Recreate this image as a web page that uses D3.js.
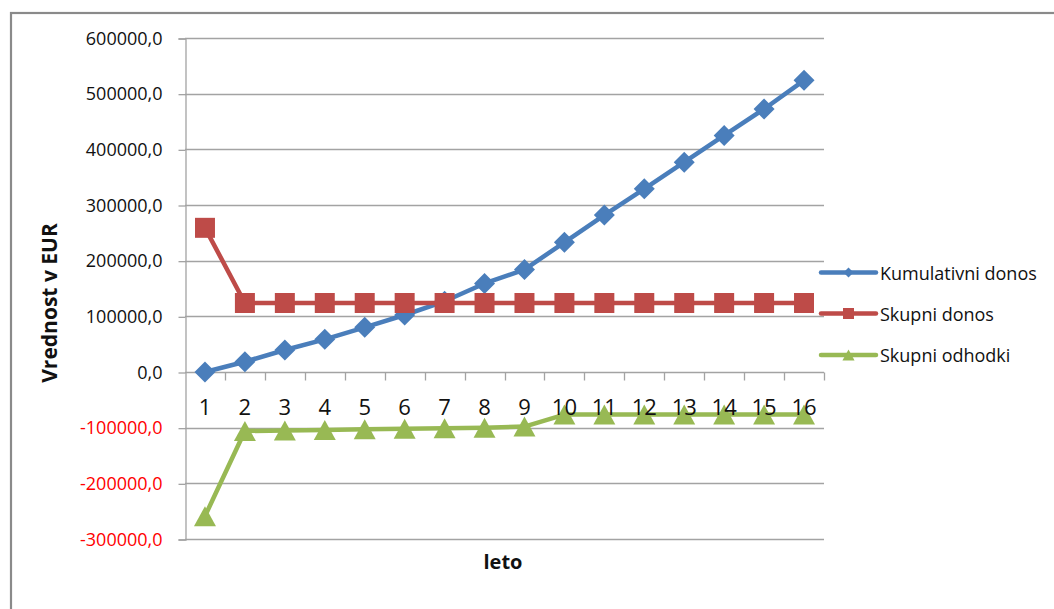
<!DOCTYPE html>
<html>
<head>
<meta charset="utf-8">
<script src="https://cdn.jsdelivr.net/npm/d3@7"></script>
<style>
  html, body { margin: 0; padding: 0; background: #fff; overflow: hidden; }
  svg { display: block; font-family: "Open Sans", sans-serif; }
</style>
</head>
<body>
<svg id="chart" width="1054" height="609"></svg>
<script>
// Years (leto)
const years = [1, 2, 3, 4, 5, 6, 7, 8, 9, 10, 11, 12, 13, 14, 15, 16];

// Series values in EUR
const kumulativniDonos = [0, 18500, 39500, 58700, 80300, 102400, 127000, 159000,
                          184000, 233000, 282000, 329000, 377000, 425000, 472500, 524000];
const skupniDonos = [259000, 124000, 124000, 124000, 124000, 124000, 124000, 124000,
                     124000, 124000, 124000, 124000, 124000, 124000, 124000, 124000];
const skupniOdhodki = [-259000, -106000, -105000, -104000, -103000, -102000, -101000, -100000,
                       -98000, -76500, -76500, -76500, -76500, -76500, -76500, -76500];

// Value axis ticks
const yTicks = [-300000, -200000, -100000, 0, 100000, 200000, 300000, 400000, 500000, 600000];

const seriesNames = ["Kumulativni donos", "Skupni donos", "Skupni odhodki"];

const svg = d3.select("#chart");

const plot = { left: 185, right: 824, top: 38, bottom: 539 };

const x = d3.scaleBand().domain(years).range([plot.left, plot.right]).padding(0);
const y = d3.scaleLinear().domain([-300000, 600000]).range([plot.bottom, plot.top]);

const locale = d3.formatLocale({ decimal: ",", thousands: "", grouping: [3], currency: ["", "€"], minus: "-" });
const fmt = locale.format(".1f");

// Chart frame
svg.append("rect")
  .attr("x", 11).attr("y", 13).attr("width", 1200).attr("height", 800)
  .attr("fill", "none").attr("stroke", "#8a8a8a").attr("stroke-width", 2.2);

// Horizontal gridlines
svg.append("g").selectAll("line").data(yTicks).join("line")
  .attr("x1", plot.left).attr("x2", plot.right)
  .attr("y1", d => Math.round(y(d)) + 0.5).attr("y2", d => Math.round(y(d)) + 0.5)
  .attr("stroke", "#a3a3a3").attr("stroke-width", 1.3);

// Value axis
const yAxis = d3.axisLeft(y).tickValues(yTicks).tickSize(7).tickPadding(16).tickFormat(fmt);
const gy = svg.append("g").attr("transform", `translate(${plot.left + 0.5},0.5)`).call(yAxis);
gy.select(".domain").attr("stroke", "#a3a3a3").attr("stroke-width", 1.3);
gy.selectAll(".tick line").attr("stroke", "#a3a3a3").attr("stroke-width", 1.3);
gy.selectAll(".tick text")
  .attr("font-family", "Open Sans, sans-serif")
  .attr("font-size", 18)
  .attr("fill", d => d < 0 ? "#ff0000" : "#111");

// Category axis sits on the zero line with ticks between categories
const y0 = Math.round(y(0)) + 0.5;
const boundaries = years.map(d => x(d) + x.bandwidth());
svg.append("g").selectAll("line").data(boundaries).join("line")
  .attr("x1", d => Math.round(d) + 0.5).attr("x2", d => Math.round(d) + 0.5)
  .attr("y1", y0).attr("y2", y0 + 8)
  .attr("stroke", "#a3a3a3").attr("stroke-width", 1.3);

const cx = d => x(d) + x.bandwidth() / 2;

const series = [
  { name: seriesNames[0], values: kumulativniDonos, color: "#4a7ebb", marker: "diamond" },
  { name: seriesNames[1], values: skupniDonos, color: "#be4b48", marker: "square" },
  { name: seriesNames[2], values: skupniOdhodki, color: "#98b954", marker: "triangle" }
];

const symbolPath = (type, size) => {
  if (type === "diamond") {
    const h = size / 2;
    return `M0,${-h}L${h},0L0,${h}L${-h},0Z`;
  }
  if (type === "square") {
    const h = size / 2;
    return `M${-h},${-h}H${h}V${h}H${-h}Z`;
  }
  const w = size * 0.55, h = size / 2;
  return `M0,${-h}L${w},${h}L${-w},${h}Z`;
};

const line = d3.line().x((d, i) => cx(years[i])).y(d => y(d));

series.forEach(s => {
  const g = svg.append("g");
  g.append("path")
    .attr("d", line(s.values))
    .attr("fill", "none").attr("stroke", s.color)
    .attr("stroke-width", 4.5).attr("stroke-linejoin", "round");
  g.selectAll("path.m").data(s.values).join("path")
    .attr("class", "m")
    .attr("transform", (d, i) => `translate(${cx(years[i])},${y(d)})`)
    .attr("d", symbolPath(s.marker, s.marker === "diamond" ? 21 : 20))
    .attr("fill", s.color);
});

// Category labels
svg.append("g").selectAll("text").data(years).join("text")
  .attr("x", d => cx(d)).attr("y", 415)
  .attr("text-anchor", "middle")
  .attr("font-size", 22).attr("fill", "#111")
  .text(d => d);

// Axis titles
svg.append("text")
  .attr("transform", `translate(57,${303}) rotate(-90)`)
  .attr("text-anchor", "middle")
  .attr("font-size", 21).attr("font-weight", "bold").attr("fill", "#111")
  .text("Vrednost v EUR");

svg.append("text")
  .attr("x", 503).attr("y", 569)
  .attr("text-anchor", "middle")
  .attr("font-size", 20).attr("font-weight", "bold").attr("fill", "#111")
  .text("leto");

// Legend
const legend = svg.append("g").attr("transform", "translate(821,0)");
const legendY = [272.5, 313.5, 355];
series.forEach((s, i) => {
  const row = legend.append("g").attr("transform", `translate(0,${legendY[i]})`);
  row.append("line").attr("x1", 0).attr("x2", 55).attr("y1", 0).attr("y2", 0)
    .attr("stroke", s.color).attr("stroke-width", 4.5).attr("stroke-linecap", "round");
  row.append("path").attr("transform", "translate(27.5,0)")
    .attr("d", symbolPath(s.marker, s.marker === "diamond" ? 10 : 11))
    .attr("fill", s.color);
  row.append("text").attr("x", 59).attr("y", 7)
    .attr("font-size", 18).attr("fill", "#111")
    .text(s.name);
});
</script>
</body>
</html>
